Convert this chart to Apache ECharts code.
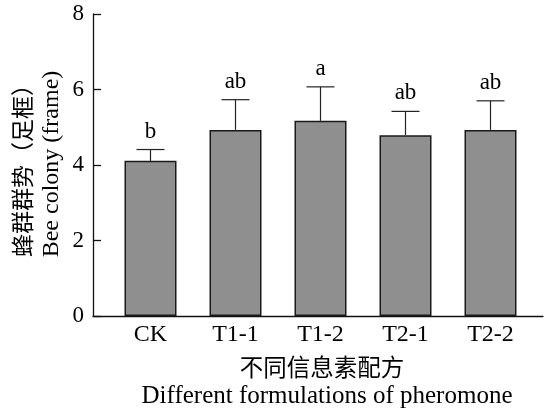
<!DOCTYPE html>
<html><head><meta charset="utf-8">
<script src="https://cdn.jsdelivr.net/npm/echarts@6/dist/echarts.min.js"></script>
<style>html,body{margin:0;padding:0;background:#fff}#c{width:544px;height:409px}</style>
</head><body><div id="c"></div>
<script>
const categories = ['CK', 'T1-1', 'T1-2', 'T2-1', 'T2-2'];
const means = [4.11, 4.93, 5.17, 4.79, 4.93];
const errors = [0.30, 0.80, 0.90, 0.63, 0.77];
const letters = ['b', 'ab', 'a', 'ab', 'ab'];
const yTicks = [0, 2, 4, 6, 8];

const serif = '"Liberation Serif", "Times New Roman", serif';
const cjk = '"Noto Sans CJK SC", sans-serif';
const chart = echarts.init(document.getElementById('c'));
const gridTop = 14, gridBottom = 409 - 316;
chart.setOption({
  animation: false,
  grid: [
    {left: 93, right: 1, top: gridTop, bottom: gridBottom},
    {left: 108, right: 11, top: gridTop, bottom: gridBottom}
  ],
  xAxis: [
    {gridIndex: 0, type: 'value', min: 0, max: 1,
     axisLine: {show: true, lineStyle: {color: '#111', width: 1.3}},
     axisTick: {show: false}, axisLabel: {show: false}, splitLine: {show: false}},
    {gridIndex: 1, type: 'category', data: categories,
     axisLine: {show: false},
     axisTick: {show: true, inside: true, alignWithLabel: true, length: 8, lineStyle: {color: '#111', width: 1.3}},
     axisLabel: {fontFamily: serif, fontSize: 24, color: '#000', margin: 7}}
  ],
  yAxis: [
    {gridIndex: 0, type: 'value', min: yTicks[0], max: yTicks[yTicks.length - 1], interval: yTicks[1] - yTicks[0],
     axisLine: {show: true, lineStyle: {color: '#111', width: 1.3}},
     axisTick: {show: true, inside: true, length: 8, lineStyle: {color: '#111', width: 1.3}},
     axisLabel: {fontFamily: serif, fontSize: 23, color: '#000', margin: 9},
     splitLine: {show: false}},
    {gridIndex: 1, type: 'value', min: yTicks[0], max: yTicks[yTicks.length - 1], show: false}
  ],
  series: [
    {type: 'bar', xAxisIndex: 1, yAxisIndex: 1, data: means, barWidth: 52,
     itemStyle: {color: '#8f8f8f', borderColor: '#1a1a1a', borderWidth: 1.5}},
    {type: 'custom', xAxisIndex: 1, yAxisIndex: 1, z: 5,
     data: means.map((m, i) => [i, m, m + errors[i], letters[i]]),
     renderItem: function (params, api) {
       const x = api.value(0);
       const p0 = api.coord([x, api.value(1)]);
       const p1 = api.coord([x, api.value(2)]);
       const half = 14;
       return {type: 'group', children: [
         {type: 'line', shape: {x1: p0[0], y1: p0[1], x2: p1[0], y2: p1[1]}, style: {stroke: '#222', lineWidth: 1.2}},
         {type: 'line', shape: {x1: p1[0] - half, y1: p1[1], x2: p1[0] + half, y2: p1[1]}, style: {stroke: '#222', lineWidth: 1.2}},
         {type: 'text', x: p1[0], y: p1[1] - 18, style: {text: api.value(3), fontFamily: serif, fontSize: 23, fill: '#000', align: 'center', verticalAlign: 'middle'}}
       ]};
     }}
  ],
  graphic: [
    {type: 'text', x: 22, y: 165, rotation: Math.PI / 2, style: {text: '蜂群群势（足框）', font: '23px ' + cjk, fill: '#000', align: 'center', verticalAlign: 'middle'}},
    {type: 'text', x: 52, y: 164, rotation: Math.PI / 2, style: {text: 'Bee colony (frame)', font: '24px ' + serif, fill: '#000', align: 'center', verticalAlign: 'middle'}},
    {type: 'text', x: 322, y: 367, style: {text: '不同信息素配方', font: '23.5px ' + cjk, fill: '#000', align: 'center', verticalAlign: 'middle'}},
    {type: 'text', x: 327, y: 396, style: {text: 'Different formulations of pheromone', font: '25px ' + serif, fill: '#000', align: 'center', verticalAlign: 'middle'}}
  ]
});
</script></body></html>
